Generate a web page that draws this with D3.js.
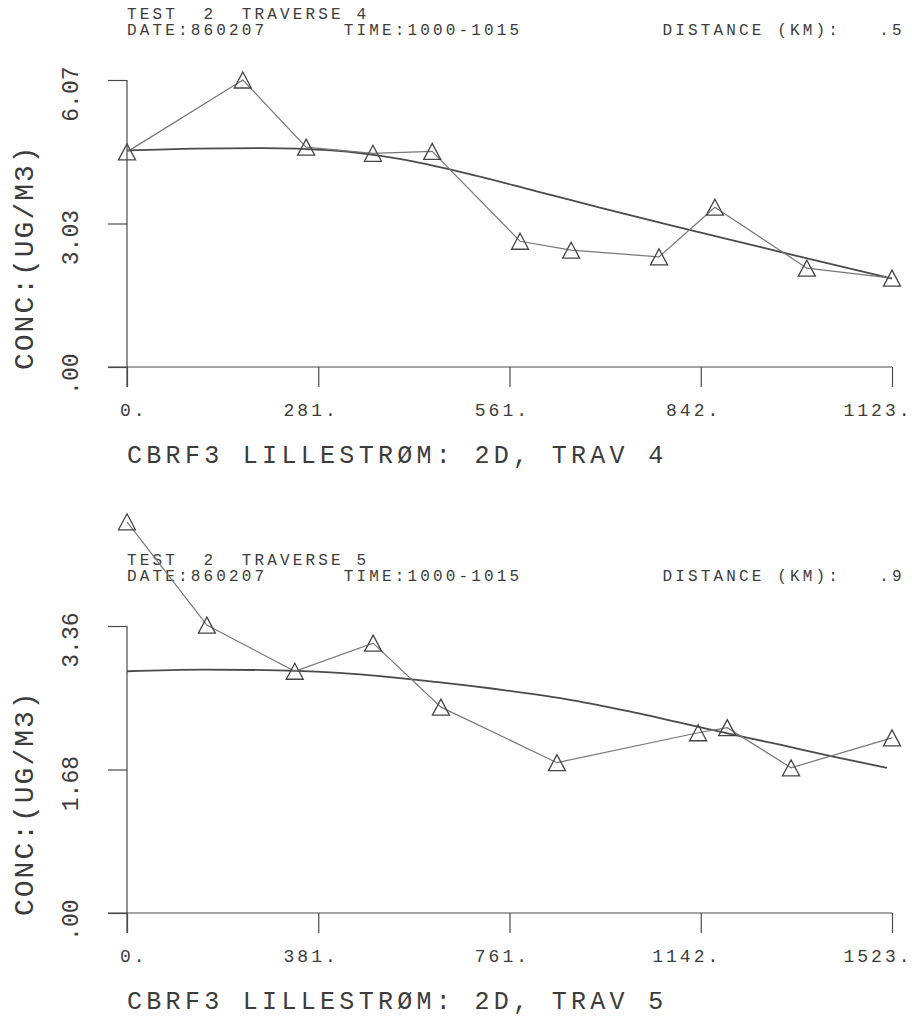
<!DOCTYPE html>
<html>
<head>
<meta charset="utf-8">
<script src="https://cdn.jsdelivr.net/npm/d3@7"></script>
<style>
  body { margin: 0; background: #fff; }
  svg text { font-family: 'Liberation Mono', 'DejaVu Sans Mono', monospace; fill: #3c3c3c; white-space: pre; }
</style>
</head>
<body>
<svg id="chart" width="912" height="1017"></svg>
<script>
// traverse 4
let trav4_dist = [0, 170, 263, 361, 448, 577, 652, 781, 863, 998, 1123]
let trav4_conc = [4.55, 6.07, 4.65, 4.52, 4.56, 2.66, 2.47, 2.33, 3.38, 2.09, 1.88]
let trav4_fit_dist = [0, 100, 200, 300, 400, 500, 600, 700, 800, 900, 1000, 1123]
let trav4_fit_conc = [4.58, 4.62, 4.63, 4.58, 4.40, 4.09, 3.72, 3.35, 2.99, 2.64, 2.29, 1.87]
let trav4_x_ticks = [0, 280.75, 561.5, 842.25, 1123]
let trav4_x_labels = ["0.", "281.", "561.", "842.", "1123."]
let trav4_y_ticks = [0, 3.035, 6.07]
let trav4_y_labels = [".00", "3.03", "6.07"]

// traverse 5
let trav5_dist = [0, 159, 334, 490, 625, 856, 1137, 1195, 1322, 1523]
let trav5_conc = [4.58, 3.37, 2.83, 3.16, 2.41, 1.76, 2.11, 2.17, 1.70, 2.05]
let trav5_fit_dist = [0, 150, 300, 450, 623, 750, 888, 1000, 1167, 1300, 1406, 1513]
let trav5_fit_conc = [2.83, 2.85, 2.84, 2.80, 2.70, 2.61, 2.49, 2.36, 2.14, 1.97, 1.83, 1.70]
let trav5_x_ticks = [0, 380.75, 761.5, 1142.25, 1523]
let trav5_x_labels = ["0.", "381.", "761.", "1142.", "1523."]
let trav5_y_ticks = [0, 1.68, 3.36]
let trav5_y_labels = [".00", "1.68", "3.36"]

let panels = [
  {
    offset: 0, trav: "4", km: ".5",
    dist: trav4_dist, conc: trav4_conc,
    fit_dist: trav4_fit_dist, fit_conc: trav4_fit_conc,
    x_ticks: trav4_x_ticks, x_labels: trav4_x_labels,
    y_ticks: trav4_y_ticks, y_labels: trav4_y_labels
  },
  {
    offset: 546, trav: "5", km: ".9",
    dist: trav5_dist, conc: trav5_conc,
    fit_dist: trav5_fit_dist, fit_conc: trav5_fit_conc,
    x_ticks: trav5_x_ticks, x_labels: trav5_x_labels,
    y_ticks: trav5_y_ticks, y_labels: trav5_y_labels
  }
]

let left = 127,
  right = 892,
  top_y = 80,
  bottom_y = 367,
  pitch = 12.75,
  svg = d3.select("#chart")

function draw_header(g, p) {
  let pieces = [
    {t: "TEST  2  TRAVERSE " + p.trav, col: 0, line: 0},
    {t: "DATE:860207", col: 0, line: 1},
    {t: "TIME:1000-1015", col: 17, line: 1},
    {t: "DISTANCE (KM):", col: 42, line: 1},
    {t: p.km, col: 59, line: 1}
  ]
  g.selectAll("text.head")
    .data(pieces).enter()
    .append("text")
    .attr("class", "head")
    .attr("x", d => left + d.col * pitch)
    .attr("y", d => 19 + d.line * 16)
    .style("font-size", "16px")
    .style("letter-spacing", "3.15px")
    .text(d => d.t)
}

function draw_panel(p) {
  let g = svg.append("g").attr("transform", `translate(0,${p.offset})`)
  let x = d3.scaleLinear()
    .domain([0, p.x_ticks[p.x_ticks.length - 1]])
    .range([left, right])
  let y = d3.scaleLinear()
    .domain([0, p.y_ticks[p.y_ticks.length - 1]])
    .range([bottom_y, top_y])

  draw_header(g, p)

  let xa = g.append("g")
    .attr("transform", `translate(0,${bottom_y})`)
    .call(d3.axisBottom(x)
      .tickValues(p.x_ticks)
      .tickFormat((d, i) => p.x_labels[i])
      .tickSize(20)
      .tickSizeOuter(0))
  xa.select(".domain").attr("d", `M${left - 19},0H${right}`)
  xa.selectAll("text")
    .attr("text-anchor", "end")
    .attr("x", 20)
    .attr("y", 49)
    .attr("dy", null)
    .style("font-size", "18px")
    .style("letter-spacing", "3px")

  let ya = g.append("g")
    .attr("transform", `translate(${left},0)`)
    .call(d3.axisLeft(y)
      .tickValues(p.y_ticks)
      .tickFormat((d, i) => p.y_labels[i])
      .tickSize(19)
      .tickSizeOuter(0))
  ya.select(".domain").attr("d", `M0,${top_y}V${bottom_y + 20}`)
  ya.selectAll("text")
    .attr("text-anchor", "end")
    .attr("x", null)
    .attr("dy", null)
    .attr("transform", "translate(-49,-14) rotate(-90)")
    .style("font-size", "23px")

  g.selectAll(".domain, .tick line")
    .attr("stroke", "#4a4a4a")
    .attr("stroke-width", 1.2)

  g.append("text")
    .attr("transform", `translate(33,${bottom_y + 3}) rotate(-90)`)
    .style("font-size", "28px")
    .style("letter-spacing", "2px")
    .text("CONC:(UG/M3)")

  g.append("text")
    .attr("x", left)
    .attr("y", 463)
    .style("font-size", "25px")
    .style("letter-spacing", "4.3px")
    .text("CBRF3 LILLESTRØM: 2D, TRAV " + p.trav)

  let fit = d3.line()
    .x((d, i) => x(p.fit_dist[i]))
    .y(d => y(d))
    .curve(d3.curveMonotoneX)
  g.append("path")
    .datum(p.fit_conc)
    .attr("d", fit)
    .attr("fill", "none")
    .attr("stroke", "#4a4a4a")
    .attr("stroke-width", 1.8)

  let obs = d3.line()
    .x((d, i) => x(p.dist[i]))
    .y(d => y(d))
  g.append("path")
    .datum(p.conc)
    .attr("d", obs)
    .attr("fill", "none")
    .attr("stroke", "#777")
    .attr("stroke-width", 1.2)

  g.selectAll("path.tri")
    .data(p.conc).enter()
    .append("path")
    .attr("class", "tri")
    .attr("d", "M0,-8L8.5,8L-8.5,8Z")
    .attr("transform", (d, i) => `translate(${x(p.dist[i])},${y(d)})`)
    .attr("fill", "none")
    .attr("stroke", "#444")
    .attr("stroke-width", 1.3)
}

panels.forEach(draw_panel)
</script>
</body>
</html>
